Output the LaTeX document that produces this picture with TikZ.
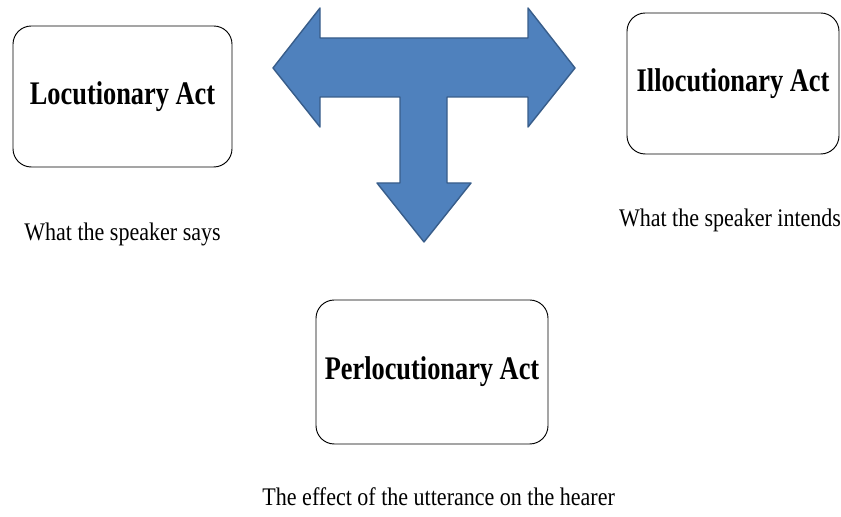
\documentclass[tikz,border=0pt]{standalone}
\usepackage{fontspec}
\setmainfont{Liberation Serif}
\usepackage{graphicx}
\usepackage{tikz}
\usetikzlibrary{positioning}
\definecolor{arrowfill}{RGB}{79,129,189}
\definecolor{arrowline}{RGB}{56,93,138}
\newcommand{\acttitle}[1]{\scalebox{1}[1.25]{#1}}
\newcommand{\actgloss}[1]{\scalebox{1}[1.15]{#1}}

\begin{document}
\begin{tikzpicture}[x=0.03cm, y=-0.03cm,
    actbox/.style={draw, rectangle, rounded corners=0.55cm, line width=0.8pt, align=center, font=\fontsize{22.5}{27}\selectfont\bfseries},
    gloss/.style={inner sep=0pt, font=\fontsize{18.8}{23}\selectfont}]
    \useasboundingbox (0,0) rectangle (841,517);

    \node (loc) [actbox, minimum width=6.57cm, minimum height=4.23cm] at (122.5,96.5) {\acttitle{Locutionary Act}};
    \node (illoc) [actbox, minimum width=6.36cm, minimum height=4.23cm] at (733,83.5) {\acttitle{Illocutionary Act}};
    \node (perloc) [actbox, minimum width=6.96cm, minimum height=4.32cm] at (432,372) {\acttitle{Perlocutionary Act}};

    \node (locgloss) [gloss, below=1.67cm of loc] {\actgloss{What the speaker says}};
    \node (illocgloss) [gloss, below=1.62cm of illoc, xshift=-0.09cm] {\actgloss{What the speaker intends}};
    \node (perlocgloss) [gloss, below=1.29cm of perloc, xshift=0.2cm] {\actgloss{The effect of the utterance on the hearer}};

    % T-shaped block arrow
    \filldraw[fill=arrowfill, draw=arrowline, line width=1.2pt, line join=round]
        (273,68) -- (320,8) -- (320,38) -- (528,38) -- (528,8) -- (575,68)
        -- (528,127) -- (528,97) -- (447,97) -- (447,183) -- (471,183)
        -- (424,242) -- (377,183) -- (400,183) -- (400,97) -- (320,97)
        -- (320,127) -- cycle;
\end{tikzpicture}
\end{document}
